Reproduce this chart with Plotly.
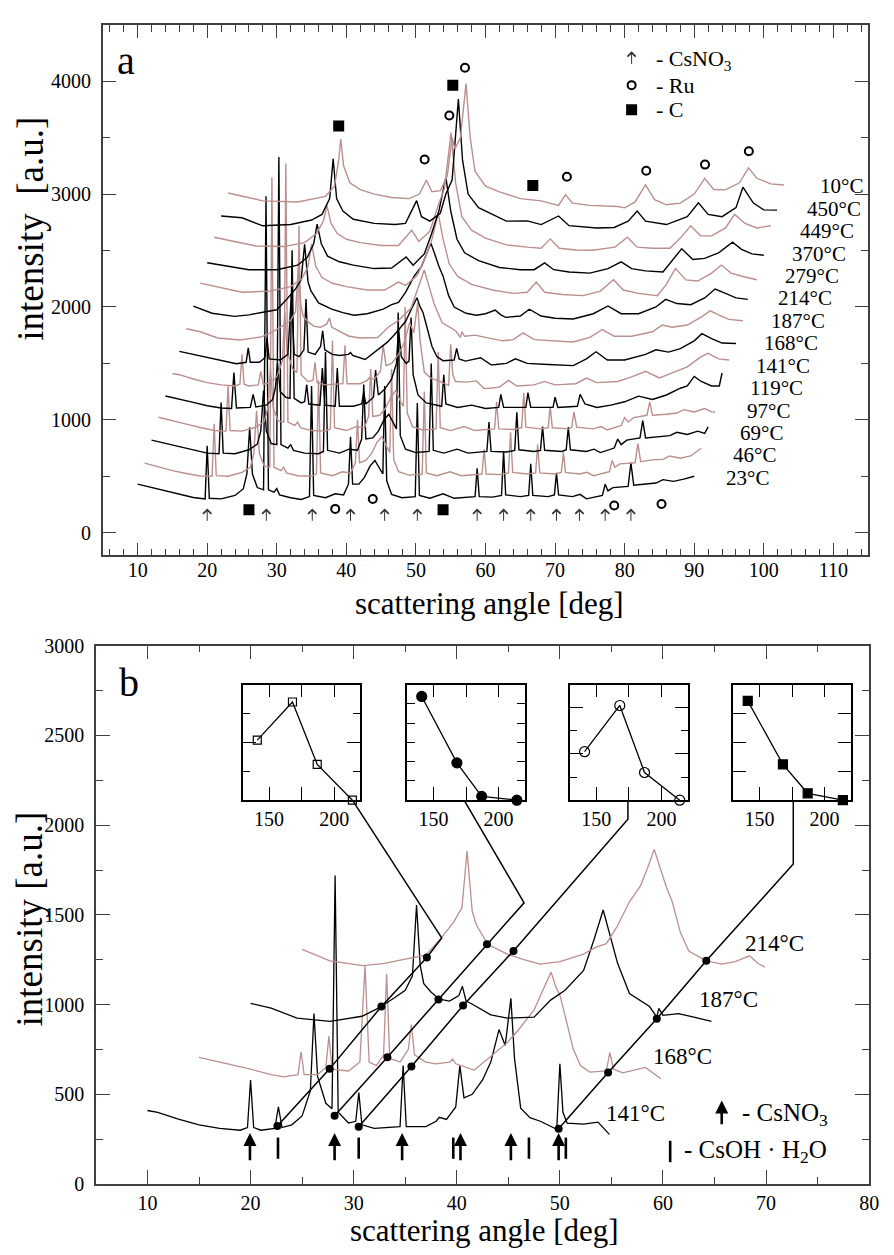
import plotly.graph_objects as go

FONT = "Liberation Serif"
BLACK = "#000000"
ROSY = "#bc8f8f"
AXC = "#404040"
W, H = 894, 1255

# ------------------------------------------------------------------ data
# own-frame diffraction patterns: (scattering angle [deg], intensity [a.u.])
p23 = [(10,430),(12,400),(14,372),(16,345),(18,312),(19.7,300),(20.0,770),(20.3,305),(22,300),(24,330),(25.2,390),(25.7,520),(26.1,935),(26.5,520),(27.2,400),(28.1,380),(28.45,2980),(28.8,380),(29.6,360),(30.0,390),(30.4,335),(32,310),(33.5,295),(34.7,320),(35.0,1300),(35.3,330),(37,310),(38.4,345),(39.6,335),(40.3,430),(40.6,850),(40.9,430),(41.8,430),(42.6,490),(43.4,590),(44.1,640),(44.8,560),(45.25,520),(45.5,1300),(45.8,460),(46.5,340),(48,310),(49.9,320),(50.2,1150),(50.5,330),(52,305),(53.9,345),(55.5,305),(58.5,320),(58.8,570),(59.1,320),(61,315),(62.3,330),(62.6,720),(62.9,335),(65,320),(66.2,330),(66.5,610),(66.8,330),(69,320),(69.9,335),(70.2,530),(70.5,335),(72.5,320),(73.6,340),(74.5,300),(76.8,330),(77.2,430),(77.6,370),(78.3,400),(80.5,410),(80.9,620),(81.3,420),(83,430),(84.5,440),(85.5,470),(87,455),(88.5,475),(90,500)]
p46 = [(10,417),(12,385),(14,350),(16,325),(18,302),(19.7,300),(20.0,765),(20.3,305),(22,300),(24,335),(25.2,380),(25.7,500),(26.1,880),(26.5,500),(27.2,390),(28.0,380),(28.3,2950),(28.6,380),(29.6,350),(30.0,380),(30.4,330),(32,305),(34,300),(34.7,320),(35.0,1150),(35.3,330),(37,305),(38.4,340),(39.6,330),(40.3,420),(40.6,800),(40.9,420),(41.8,440),(42.6,500),(43.4,600),(44.1,650),(44.8,560),(45.25,510),(45.5,1250),(45.8,450),(46.5,340),(48,310),(49.9,320),(50.2,1050),(50.5,330),(52,305),(53.9,340),(55.5,305),(58.5,320),(58.8,540),(59.1,320),(61,315),(62.3,330),(62.6,690),(62.9,335),(65,320),(66.2,330),(66.5,580),(66.8,330),(69,320),(69.9,335),(70.2,510),(70.5,335),(72.5,320),(73.6,335),(74.5,305),(76.8,340),(77.2,440),(77.6,380),(78.3,410),(80.5,420),(80.9,590),(81.3,430),(83,445),(84.5,450),(85.5,480),(87,460),(88.5,480),(90,548)]
p69 = [(10,420),(12,392),(14,360),(16,330),(18,305),(19.7,300),(20.0,754),(20.3,305),(22,300),(24,335),(25.2,385),(25.7,500),(26.1,860),(26.5,500),(27.2,390),(28.0,380),(28.3,2928),(28.6,380),(29.6,350),(30.0,380),(30.4,330),(32,305),(34,300),(34.7,320),(35.0,1200),(35.3,330),(37,305),(38.4,340),(39.6,330),(40.2,430),(40.5,913),(40.8,430),(41.8,440),(42.6,500),(43.4,600),(44.1,650),(44.8,560),(45.2,520),(45.45,1550),(45.75,460),(46.5,340),(48,310),(49.9,320),(50.2,1100),(50.5,330),(52,305),(53.9,340),(55.5,305),(58.2,320),(58.5,580),(58.8,320),(61,315),(62.2,330),(62.5,667),(62.8,335),(65,320),(65.9,330),(66.2,540),(66.5,330),(69,320),(69.6,335),(69.9,537),(70.2,335),(72.5,320),(73.6,340),(74.5,310),(76.5,350),(77.0,430),(77.5,380),(78.3,420),(80.2,440),(80.6,594),(81.0,440),(83,450),(84.5,460),(85.5,490),(87,470),(88.5,500),(89.5,480),(90,537)]
p97 = [(10,423),(12,395),(14,362),(16,332),(18,306),(19.7,300),(20.0,700),(20.3,305),(22,300),(24,335),(25.2,385),(25.7,500),(26.1,850),(26.5,500),(27.2,390),(28.0,380),(28.3,2670),(28.6,380),(29.6,350),(30.0,380),(30.4,330),(32,305),(34,300),(34.7,320),(35.0,1100),(35.3,330),(37,305),(38.4,340),(39.6,330),(40.2,430),(40.5,850),(40.8,430),(41.8,440),(42.6,500),(43.4,600),(44.1,660),(44.8,560),(45.2,520),(45.45,1400),(45.75,460),(46.5,340),(48,310),(49.9,320),(50.2,1000),(50.5,330),(52,305),(53.9,340),(55.5,305),(58.3,320),(58.6,560),(58.9,320),(61,315),(62.2,330),(62.5,640),(62.8,335),(65,320),(66.0,330),(66.3,520),(66.6,330),(69,320),(69.4,335),(69.7,470),(70.1,335),(72.5,320),(73.6,340),(74.5,310),(76.5,350),(77.0,420),(77.5,380),(78.3,420),(80.2,440),(80.6,560),(81.0,440),(83,450),(84.5,460),(85.5,490),(87,470),(88.5,500),(89.5,470),(90,467)]
p119 = [(10,411),(12,385),(14,355),(16,325),(18,305),(19.5,300),(19.84,620),(20.2,305),(22.2,310),(22.6,426),(23.0,315),(24.5,330),(25.4,380),(25.8,480),(26.1,700),(26.5,450),(27.3,400),(27.9,390),(28.2,1702),(28.5,390),(29.5,350),(30.0,360),(30.3,513),(30.6,340),(32.2,330),(32.55,658),(32.9,330),(34.4,320),(34.7,658),(35.0,320),(37,320),(38.2,340),(38.5,441),(38.8,340),(39.9,400),(40.2,640),(40.6,420),(41.5,470),(42.5,560),(43.2,700),(43.5,1000),(43.9,760),(44.6,700),(45.0,720),(45.3,1107),(45.6,600),(46.3,420),(47.5,350),(49.7,320),(50.0,600),(50.3,340),(52,310),(54,330),(56,300),(57.9,310),(58.2,426),(58.6,310),(61.8,310),(62.1,441),(62.5,310),(65.7,310),(66.0,400),(66.4,310),(69.2,320),(69.6,426),(70.3,340),(72,310),(74,330),(76,360),(78,410),(80,380),(82,420),(84,480),(85,500),(86,585),(87,540),(88.5,500),(89.6,500),(90,615)]
p141 = [(10,410),(11,400),(13,362),(15,330),(17,310),(19,300),(19.7,315),(20.0,580),(20.3,315),(21,300),(22.35,310),(22.7,430),(23.05,315),(24,330),(25,380),(25.8,520),(26.15,950),(26.5,600),(27.3,450),(27.9,420),(28.2,1720),(28.5,400),(29.5,340),(30.2,350),(30.5,510),(30.8,330),(32,310),(34.5,320),(34.8,660),(35.1,320),(37,320),(38,350),(38.3,372),(39,360),(39.9,430),(40.3,660),(40.7,480),(41.5,500),(42.5,580),(43.3,680),(44.1,861),(44.7,772),(45.25,1035),(45.6,700),(46.2,423),(47.1,370),(48.1,350),(49.7,305),(50.0,670),(50.3,400),(50.7,340),(52.3,334),(53.7,345),(54.8,277),(55.5,280),(57,290),(58.3,350),(59.5,300),(62,310),(63.5,340),(65,310),(68,320),(69.5,370),(71,330),(74,340),(76,380),(78,430),(80,371),(82,420),(84,470),(86,560),(87,589),(88.5,540),(90,530)]
p168 = [(10,406),(12,380),(15,340),(17,310),(18.2,297),(19.6,310),(19.9,437),(20.2,310),(21.5,310),(22.3,350),(22.6,525),(22.9,340),(24.5,330),(25.6,380),(26.1,917),(26.5,380),(27.2,360),(27.9,420),(28.2,871),(28.5,400),(29.5,380),(30.3,450),(30.6,589),(30.9,420),(32,380),(33,370),(34.3,380),(34.6,397),(34.9,370),(36.7,335),(38.5,420),(39.9,488),(41,560),(42.5,671),(43.5,800),(44.15,881),(44.6,800),(45.0,754),(45.5,640),(46.3,452),(47.0,360),(47.9,324),(49.5,330),(49.85,433),(50.2,340),(51.1,320),(53.3,350),(54.8,287),(55.5,290),(57,300),(58.3,340),(60,300),(63,290),(66.6,280),(68.5,340),(69.9,403),(71.5,330),(74,330),(77,380),(78.5,420),(80.3,400),(82,430),(84,500),(85.1,563),(86.5,520),(88,480),(90,476)]
p187 = [(10,407),(12,380),(14.5,325),(17.7,307),(20.8,335),(22.4,380),(24,440),(25,480),(25.7,560),(26.1,955),(26.45,620),(26.8,517),(27.5,470),(28.3,430),(29.3,420),(30.2,450),(30.55,502),(30.9,420),(31.3,409),(33.3,343),(34.9,325),(37.5,330),(39.1,425),(40.5,480),(42.3,590),(43.3,760),(44.2,927),(44.8,800),(45.6,630),(46.75,462),(48.7,389),(49.4,330),(49.6,379),(50,340),(51.5,350),(53,330),(54.7,307),(55.5,300),(57,310),(58.4,370),(60,310),(63,300),(65.6,290),(68,330),(69.8,400),(71.5,340),(74,340),(77,380),(78.4,440),(79.8,420),(82,440),(84,510),(85.3,565),(86.5,530),(88,490),(90,478)]
p214 = [(10,408),(12.7,344),(15.9,317),(18,330),(20,353),(22,375),(23.5,472),(24.7,560),(25.5,640),(26.0,956),(26.5,620),(26.9,545),(28,436),(29.9,381),(31.5,350),(33.1,326),(35,340),(37.3,381),(38.5,420),(39.5,440),(40.5,530),(41.75,673),(42.8,760),(43.5,860),(44.15,965),(44.7,870),(45.3,760),(45.9,673),(46.7,500),(47.5,399),(49.2,344),(50.7,326),(52,340),(53.4,372),(54.2,330),(54.9,308),(57,320),(58.3,380),(60,320),(62,300),(64.6,293),(67.5,340),(69.6,409),(71.5,340),(74,340),(76.5,400),(77.9,467),(79.5,430),(81.5,420),(83.5,480),(85,559),(86.5,520),(88,480),(89.7,467)]
p279 = [(10,411),(13,370),(16,330),(20,340),(23,380),(24.6,450),(25.5,560),(26.0,760),(26.6,560),(27.5,460),(29,410),(31,380),(34,350),(36.5,350),(38.5,420),(39.5,390),(41.2,480),(42.2,620),(43.3,800),(44.2,1030),(44.9,800),(45.8,580),(47,470),(49,400),(52,350),(55,320),(57,330),(58.3,420),(59.5,330),(62,310),(65,300),(67.5,340),(69.4,441),(70.8,350),(73,320),(75.7,300),(77,400),(78.3,542),(79.8,440),(81.5,430),(83.5,500),(84.9,571),(86.3,500),(88,470),(90,441)]
p370 = [(10,391),(13,360),(16,330),(20,330),(23,370),(24.4,440),(25.3,560),(25.8,733),(26.4,560),(27.3,450),(29,400),(31,370),(34,340),(36.5,345),(38.6,443),(39.6,370),(41.2,470),(42.2,640),(43.3,850),(44.3,1150),(45.0,850),(45.9,600),(47,480),(49,410),(52,350),(55,330),(57,330),(58.5,390),(59.8,330),(62,310),(65,300),(67.6,340),(69.5,400),(71,340),(73,320),(75.5,310),(77,420),(78.2,516),(79.8,420),(81.5,430),(83.5,480),(85.5,574),(86.8,510),(88.3,470),(90,458)]
p449 = [(10,417),(13,380),(16,340),(20,335),(23,370),(24.7,450),(25.7,560),(26.2,700),(26.8,540),(27.7,450),(29,400),(31,370),(34,345),(36.5,345),(38.4,480),(39.4,380),(41.0,470),(42.2,700),(43.1,850),(44.05,1345),(44.7,900),(45.6,600),(47,480),(49,410),(52,350),(55,330),(57,320),(58.3,403),(59.6,320),(62,305),(64.4,302),(67.6,330),(69.4,417),(70.8,330),(73,320),(75.5,320),(77,410),(78.5,519),(79.9,430),(81.5,430),(83.5,500),(84.8,620),(86.3,540),(88,500),(90,519)]
p450 = [(10,406),(13,390),(16,319),(20,330),(23,370),(24.5,420),(25.6,560),(26.1,913),(26.6,560),(27.5,450),(29,377),(32,340),(35,330),(36.5,340),(38.1,542),(38.8,400),(40,360),(41.5,430),(42.3,600),(43.2,724),(44.1,1441),(44.7,900),(45.5,600),(47,480),(49,420),(51,360),(54,362),(56,330),(58.5,406),(60,320),(64,300),(66.5,304),(68.5,360),(69.8,449),(71,360),(74,330),(77,400),(78.6,522),(80,420),(82,400),(84,480),(85,661),(86.5,520),(88,460),(89.9,458)]
p10 = [(10,410),(15,340),(20,330),(24,380),(25.3,470),(25.9,700),(26.2,887),(26.6,650),(27.5,500),(29,440),(31,400),(33.5,370),(36,360),(37.5,400),(38.5,524),(39.3,420),(40.5,430),(41.5,560),(42.2,900),(42.6,800),(43.4,900),(44.2,1380),(44.8,900),(45.5,600),(47,470),(49,420),(52,360),(54,350),(55,340),(57.5,300),(58.5,394),(59.5,320),(62,300),(66,290),(67,278),(68.5,330),(70,481),(71.3,350),(73,305),(75,320),(77,400),(78.5,539),(79.8,440),(81.5,437),(83.5,500),(84.8,632),(86,540),(88,490),(89.9,481)]

temps_a = [23, 46, 69, 97, 119, 141, 168, 187, 214, 279, 370, 449, 450, 10]
patterns_a = [p23, p46, p69, p97, p119, p141, p168, p187, p214, p279, p370, p449, p450, p10]
temps_b = [141, 168, 187, 214]
patterns_b = [p141, p168, p187, p214]

# phase markers, panel a
csno3_a = [20.0, 28.5, 35.1, 40.6, 45.5, 50.2, 58.8, 62.6, 66.5, 70.2, 73.5, 77.2, 80.9]
c_low_x, c_low_y = [26.0, 53.9], [203, 203]
ru_low_x, ru_low_y = [38.4, 43.8, 78.5, 85.3], [211, 298, 241, 255]
c_high_x, c_high_y = [38.9, 55.3, 66.8], [3603, 3965, 3076]
ru_high_x = [51.25, 54.8, 57.05, 71.7, 83.1, 91.55, 97.85]
ru_high_y = [3307, 3696, 4119, 3154, 3206, 3261, 3380]

# phase markers, panel b
csno3_b = [19.94, 28.15, 34.7, 40.36, 45.25, 49.88]
csoh_b = [22.66, 30.49, 39.66, 47.0, 50.58]

# peak tracks (panel b): dots on the 141/168/187/214 curves, then path to inset
track_x = [[22.6, 27.67, 32.69, 37.1, 38.54, 29.88],
           [28.15, 33.27, 38.22, 42.93, 46.53, 40.71],
           [30.49, 35.6, 40.61, 45.5, 56.6, 56.6],
           [49.88, 54.68, 59.4, 64.2, 72.64, 72.64]]
track_y = [[323, 642, 989, 1263, 1372, 2139],
           [381, 706, 1029, 1336, 1567, 2139],
           [319, 655, 995, 1299, 2033, 2139],
           [308, 622, 921, 1244, 1783, 2139]]

# insets: integrated intensity vs temperature
inset_T = [141, 168, 187, 214]
inset1 = [0.52, 0.85, 0.31, 0.0]
inset2 = [5.39, 1.94, 0.20, 0.0]
inset3 = [0.42, 0.82, 0.24, 0.0]
inset4 = [0.86, 0.31, 0.06, 0.0]

# ------------------------------------------------------------------ figure
fig = go.Figure()

def px_x(p):
    return p / W

def px_y(p):
    return 1 - p / H

def axis_common(**kw):
    d = dict(showline=True, linecolor=AXC, linewidth=1.5, mirror="allticks",
             ticks="inside", tickcolor=AXC, tickwidth=1.3, showgrid=False,
             zeroline=False, tickfont=dict(family=FONT, size=20, color="black"))
    d.update(kw)
    return d

STEP_AX, STEP_AY = 1.0, 200.0
for i, (T, pat) in enumerate(zip(temps_a, patterns_a)):
    xs = [p[0] + STEP_AX * i for p in pat]
    ys = [p[1] + STEP_AY * i for p in pat]
    fig.add_trace(go.Scatter(x=xs, y=ys, mode="lines", xaxis="x", yaxis="y",
                             line=dict(color=BLACK if i % 2 == 0 else ROSY, width=1.4),
                             hoverinfo="skip", showlegend=False))

STEP_BX, STEP_BY = 5.0, 300.0
for j, (T, pat) in enumerate(zip(temps_b, patterns_b)):
    xs = [p[0] + STEP_BX * j for p in pat if p[0] <= 55]
    ys = [p[1] + STEP_BY * j for p in pat if p[0] <= 55]
    fig.add_trace(go.Scatter(x=xs, y=ys, mode="lines", xaxis="x2", yaxis="y2",
                             line=dict(color=BLACK if j % 2 == 0 else ROSY, width=1.3),
                             hoverinfo="skip", showlegend=False))

for tx, ty in zip(track_x, track_y):
    fig.add_trace(go.Scatter(x=tx, y=ty, mode="lines", xaxis="x2", yaxis="y2",
                             line=dict(color="black", width=1.5), hoverinfo="skip",
                             showlegend=False, cliponaxis=False))
    fig.add_trace(go.Scatter(x=tx[:4], y=ty[:4], mode="markers", xaxis="x2", yaxis="y2",
                             marker=dict(color="black", size=8), hoverinfo="skip",
                             showlegend=False))

def add_markers(x, y, symbol, size, ax="x", ay="y"):
    fig.add_trace(go.Scatter(x=x, y=y, mode="markers", xaxis=ax, yaxis=ay,
                             marker=dict(symbol=symbol, size=size, color="black",
                                         line=dict(color="black", width=2)),
                             hoverinfo="skip", showlegend=False, cliponaxis=False))

add_markers(c_low_x, c_low_y, "square", 9)
add_markers(c_high_x, c_high_y, "square", 9)
add_markers(ru_low_x, ru_low_y, "circle-open", 8)
add_markers(ru_high_x, ru_high_y, "circle-open", 8)
add_markers([81.0], [3965], "circle-open", 8)
add_markers([81.0], [3748], "square", 9)

inset_vals = [inset1, inset2, inset3, inset4]
inset_sym = [("square-open", 8), ("circle", 10), ("circle-open", 10), ("square", 9)]
inset_left = [245.7, 412.0, 576.7, 741.7]
inset_w = 118.6
inset_top, inset_bot = 685.7, 803.3
inset_yr = [[0, 1], [0, 6], [0, 1], [0, 1]]
inset_ytick = [(0.5, 0.25), (1, None), (0.4, 0.2), (0.25, None)]

layout_axes = {}
for k in range(4):
    xa, ya = f"x{k+3}", f"y{k+3}"
    sym, sz = inset_sym[k]
    fig.add_trace(go.Scatter(x=inset_T, y=inset_vals[k], mode="lines+markers",
                             xaxis=xa, yaxis=ya, cliponaxis=False,
                             line=dict(color="black", width=1.3),
                             marker=dict(symbol=sym, size=sz, color="black",
                                         line=dict(color="black", width=1.2)),
                             hoverinfo="skip", showlegend=False))
    l = inset_left[k]
    layout_axes[f"xaxis{k+3}"] = axis_common(
        domain=[px_x(l), px_x(l + inset_w)], range=[130, 220], anchor=ya,
        tickvals=[150, 175, 200], ticktext=["150", "", "200"], ticklen=13,
        linecolor="black", tickcolor="black", ticklabelstandoff=0)
    maj, mnr = inset_ytick[k]
    yk = axis_common(domain=[px_y(inset_bot), px_y(inset_top)], range=inset_yr[k],
                     anchor=xa, dtick=maj, tick0=0, ticklen=13 if maj != 1 else 8,
                     showticklabels=False, linecolor="black", tickcolor="black")
    if mnr:
        yk["minor"] = dict(ticks="inside", dtick=mnr, ticklen=7, tickcolor="black",
                           tickwidth=1.3)
    layout_axes[f"yaxis{k+3}"] = yk

annotations = []

def ann(**kw):
    d = dict(showarrow=False, font=dict(family=FONT, size=21, color="black"))
    f = kw.pop("font", None)
    if f:
        d["font"].update(f)
    d.update(kw)
    annotations.append(d)

for i, T in enumerate(temps_a):
    ann(x=97.6 + 1.04 * i, y=487 + 198.5 * i, xref="x", yref="y",
        text=f"{T}°C", xanchor="center", yanchor="middle", font=dict(size=21))

for j, T in enumerate(temps_b):
    ann(x=54.3 + 4.5 * j, y=396 + 315 * j, xref="x2", yref="y2",
        text=f"{T}°C", xanchor="left", yanchor="middle", font=dict(size=23))

for xv in csno3_a:
    annotations.append(dict(x=xv, y=215, ax=xv, ay=92, xref="x", yref="y",
                            axref="x", ayref="y", text="", showarrow=True,
                            arrowhead=4, arrowsize=1.6, arrowwidth=1,
                            arrowcolor="#333333"))
annotations.append(dict(x=81.0, y=4265, ax=81.0, ay=4140, xref="x", yref="y",
                        axref="x", ayref="y", text="", showarrow=True,
                        arrowhead=4, arrowsize=1.6, arrowwidth=1, arrowcolor="#333333"))
ann(x=84.2, y=4190, xref="x", yref="y", text="- CsNO<sub>3</sub>",
    xanchor="left", yanchor="middle", font=dict(size=22))
ann(x=84.2, y=3965, xref="x", yref="y", text="- Ru", xanchor="left",
    yanchor="middle", font=dict(size=22))
ann(x=84.2, y=3748, xref="x", yref="y", text="- C", xanchor="left",
    yanchor="middle", font=dict(size=22))

for xv in csno3_b:
    annotations.append(dict(x=xv, y=285, ax=xv, ay=125, xref="x2", yref="y2",
                            axref="x2", ayref="y2", text="", showarrow=True,
                            arrowhead=2, arrowsize=1.0, arrowwidth=2.6,
                            arrowcolor="black"))
annotations.append(dict(x=65.7, y=465, ax=65.7, ay=325, xref="x2", yref="y2",
                        axref="x2", ayref="y2", text="", showarrow=True,
                        arrowhead=2, arrowsize=1.0, arrowwidth=2.6, arrowcolor="black"))
ann(x=67.5, y=385, xref="x2", yref="y2", text="- CsNO<sub>3</sub>",
    xanchor="left", yanchor="middle", font=dict(size=25))
ann(x=61.8, y=180, xref="x2", yref="y2", text="- CsOH · H<sub>2</sub>O",
    xanchor="left", yanchor="middle", font=dict(size=25))

shapes = []
for xv in csoh_b:
    shapes.append(dict(type="line", xref="x2", yref="y2", x0=xv, x1=xv, y0=141, y1=259,
                       line=dict(color="black", width=2.6)))
shapes.append(dict(type="line", xref="x2", yref="y2", x0=60.7, x1=60.7, y0=122, y1=241,
                   line=dict(color="black", width=2.6)))

ann(x=px_x(127), y=px_y(50), xref="paper", yref="paper", text="a",
    xanchor="center", yanchor="middle", font=dict(size=40))
ann(x=px_x(130), y=px_y(683), xref="paper", yref="paper", text="b",
    xanchor="center", yanchor="middle", font=dict(size=40))
ann(x=px_x(495), y=px_y(603), xref="paper", yref="paper", text="scattering angle [deg]",
    xanchor="center", yanchor="middle", font=dict(size=31))
ann(x=px_x(490), y=px_y(1241), xref="paper", yref="paper", text="scattering angle [deg]",
    xanchor="center", yanchor="middle", font=dict(size=31))
ann(x=px_x(30), y=px_y(222), xref="paper", yref="paper", text="intensity  [a.u.]",
    xanchor="center", yanchor="middle", textangle=-90, font=dict(size=37))
ann(x=px_x(30), y=px_y(924), xref="paper", yref="paper", text="intensity [a.u.]",
    xanchor="center", yanchor="middle", textangle=-90, font=dict(size=37))

fig.update_layout(
    width=W, height=H, margin=dict(l=0, r=0, t=0, b=0, pad=0),
    font=dict(family=FONT, size=20, color="black"),
    paper_bgcolor="white", plot_bgcolor="white", showlegend=False,
    xaxis=axis_common(domain=[px_x(104), px_x(878)], range=[5, 115], anchor="y",
                      dtick=10, tick0=0, ticklen=13, ticklabelstandoff=-4,
                      minor=dict(ticks="inside", dtick=2, ticklen=7, tickcolor=AXC, tickwidth=1.2)),
    yaxis=axis_common(domain=[px_y(554), px_y(14)], range=[-200, 4500], anchor="x",
                      dtick=1000, tick0=0, ticklen=13, ticklabelstandoff=6,
                      minor=dict(ticks="inside", dtick=500, ticklen=7, tickcolor=AXC, tickwidth=1.2)),
    xaxis2=axis_common(domain=[px_x(97), px_x(879)], range=[5, 80], anchor="y2",
                       dtick=10, tick0=0, ticklen=14, ticklabelstandoff=0,
                       minor=dict(ticks="inside", dtick=5, ticklen=7, tickcolor=AXC, tickwidth=1.2)),
    yaxis2=axis_common(domain=[px_y(1194), px_y(646)], range=[0, 3000], anchor="x2",
                       dtick=500, tick0=0, ticklen=14, ticklabelstandoff=6,
                       minor=dict(ticks="inside", dtick=250, ticklen=7, tickcolor=AXC, tickwidth=1.2)),
    annotations=annotations, shapes=shapes,
    **layout_axes,
)

fig.write_html("out.html", config={"displayModeBar": False},
               post_script="document.body.style.margin='0';document.body.style.padding='0';"
                           "document.documentElement.style.overflow='hidden';")
